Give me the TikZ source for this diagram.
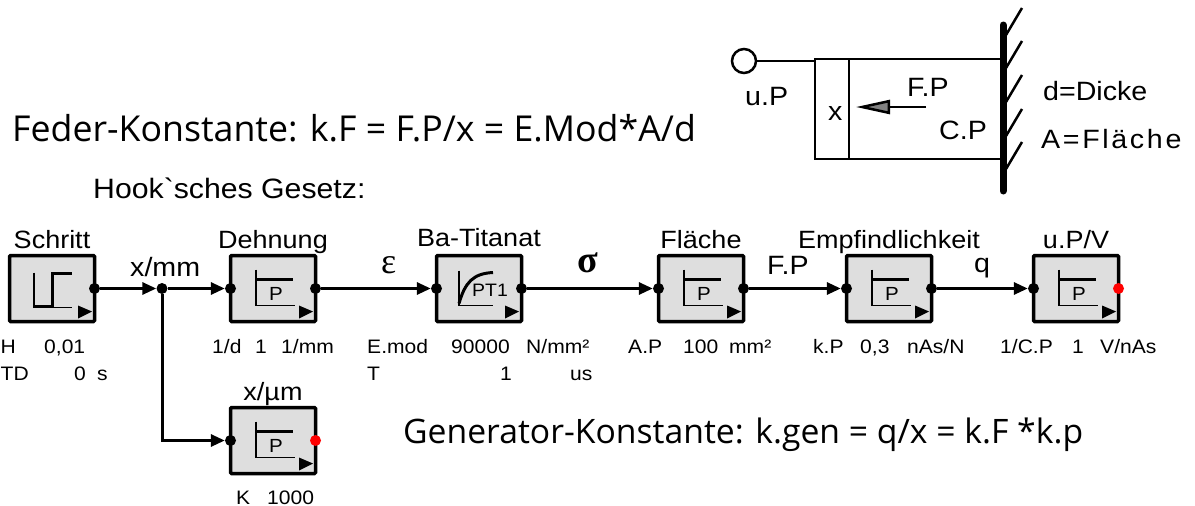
\documentclass[tikz,border=0pt]{standalone}
\usepackage{fontspec}
\setmainfont[FakeStretch=1.08]{Liberation Sans}
\newfontfamily\handfont{Open Sans}
\newfontfamily\plainfont[FakeStretch=1.08]{Liberation Sans}
\newfontfamily\spreadfont[FakeStretch=1.08,LetterSpace=10]{Liberation Sans}
\newfontfamily\greekfont{Liberation Serif}
\usetikzlibrary{positioning,arrows.meta}
\definecolor{blockgray}{HTML}{DEDEDE}
\tikzset{
    block/.style={rectangle,draw,fill=blockgray,line width=3.5pt,rounded corners=1pt,outer sep=0pt,minimum width=85pt,minimum height=66pt},
    port/.style={circle,fill=black,inner sep=0pt,minimum size=11pt},
    wire/.style={line width=3pt,-{Triangle[length=14pt,width=12pt]}},
    title/.style={inner sep=0pt,font=\fontsize{25}{25}\selectfont,text height=18pt,text depth=0pt},
    signal/.style={inner sep=0pt,anchor=base west,font=\fontsize{26.5}{27}\selectfont},
    param/.style={inner sep=0pt,anchor=base west,font=\fontsize{19.5}{20}\selectfont},
    hand/.style={inner sep=0pt,anchor=base west,font=\handfont\fontsize{#1}{#1}\selectfont},
    ptail/.pic={
        \fill (26,17) -- (40,23) -- (26,30) -- cycle;
    },
    psym/.pic={
        \draw[line width=1.5pt] (-17,-19) -- (-17,17) -- (22,17);
        \draw[line width=3pt] (-17,-9) -- (20,-9);
        \node[inner sep=0pt,font=\fontsize{19}{19}\selectfont] (p) at (3,5) {P};
    },
    stepsym/.pic={
        \draw[line width=1.5pt] (-18,-16) -- (-18,19) -- (20,19);
        \draw[line width=3pt] (-18,18) -- (0,18) -- (0,-15) -- (20,-15);
    },
    ptsym/.pic={
        \draw[line width=1.5pt] (-20,-18) -- (-20,17) -- (14,17);
        \draw[line width=3pt] (-20,15) .. controls (-14,-6) and (-6,-15) .. (14,-16);
        \node[inner sep=0pt,font=\fontsize{18}{18}\selectfont] (pt) at (11,2) {PT1};
    }
}

\begin{document}
\begin{tikzpicture}[x=1pt,y=-1pt]
    \useasboundingbox (0,0) rectangle (1195,506);

    % signal flow
    \node[block] (schritt) at (52,288.5) {};
    \node[block] (dehnung) [right=136pt of schritt] {};
    \node[block] (titanat) [right=121pt of dehnung] {};
    \node[block] (flaeche) [right=137pt of titanat] {};
    \node[block] (empf) [right=103pt of flaeche] {};
    \node[block] (upv) [right=102pt of empf] {};
    \node[block] (xum) [below=86pt of dehnung] {};

    \foreach \b in {dehnung,titanat,flaeche,empf,upv,xum}
        \node[port] (\b-in) at (\b.west) {};
    \foreach \b in {schritt,dehnung,titanat,flaeche,empf}
        \node[port] (\b-out) at (\b.east) {};
    \foreach \b in {upv,xum}
        \node[port,fill=red] (\b-out) at (\b.east) {};
    \node[port] (split) at (162,288.5) {};

    \foreach \b in {schritt,dehnung,titanat,flaeche,empf,upv,xum}
        \pic at (\b) {ptail};
    \foreach \b in {dehnung,flaeche,empf,upv,xum}
        \pic at (\b) {psym};
    \pic at (schritt) {stepsym};
    \pic at (titanat) {ptsym};

    \draw[wire] (schritt-out) -- (split);
    \draw[wire] (split) -- (dehnung-in);
    \draw[wire] (split) |- (xum-in);
    \draw[wire] (dehnung-out) -- (titanat-in);
    \draw[wire] (titanat-out) -- (flaeche-in);
    \draw[wire] (flaeche-out) -- (empf-in);
    \draw[wire] (empf-out) -- (upv-in);

    \node[title] (tschritt) [above=7pt of schritt] {Schritt};
    \node[title] (tdehnung) [above=7pt of dehnung] {Dehnung};
    \node[title] (ttitanat) [above=9pt of titanat] {Ba-Titanat};
    \node[title] (tflaeche) [above=7pt of flaeche] {Fläche};
    \node[title] (tempf) [above=7pt of empf] {Empfindlichkeit};
    \node[title] (tupv) [above=7pt of upv] {u.P/V};
    \node[title] (txum) [above=7pt of xum] {x/µm};

    \node[signal] (sx) at (130,276) {x/mm};
    \node[signal,font=\greekfont\fontsize{36}{36}\selectfont] (seps) at (381,273) {ε};
    \node[signal,font=\greekfont\bfseries\fontsize{38}{38}\selectfont] (ssig) at (577,272) {σ};
    \node[signal] (sfp) at (767,274) {F.P};
    \node[signal] (sq) at (974,272) {q};

    % parameters
    \node[param] (h1) at (0.5,353) {H};
    \node[param] (h2) at (44,353) {0,01};
    \node[param] (td1) at (0.5,380) {TD};
    \node[param] (td2) at (74,380) {0};
    \node[param] (td3) at (97,380) {s};
    \node[param] (d1) at (212,353) {1/d};
    \node[param] (d2) at (255,353) {1};
    \node[param] (d3) at (281,353) {1/mm};
    \node[param] (e1) at (367,353) {E.mod};
    \node[param] (e2) at (451,353) {90000};
    \node[param] (e3) at (526,353) {N/mm²};
    \node[param] (t1) at (367,380) {T};
    \node[param] (t2) at (500,380) {1};
    \node[param] (t3) at (570,380) {us};
    \node[param] (a1) at (628,353) {A.P};
    \node[param] (a2) at (683,353) {100};
    \node[param] (a3) at (729,353) {mm²};
    \node[param] (k1) at (813,353) {k.P};
    \node[param] (k2) at (860,353) {0,3};
    \node[param] (k3) at (907,353) {nAs/N};
    \node[param] (c1) at (1000,353) {1/C.P};
    \node[param] (c2) at (1072,353) {1};
    \node[param] (c3) at (1100,353) {V/nAs};
    \node[param] (g1) at (236,504) {K};
    \node[param] (g2) at (267,504) {1000};

    % formulas
    \node[hand=35.7] (feder) at (12,141) {Feder-Konstante: k.F = F.P/x = E.Mod*A/d};
    \node[signal,font=\plainfont\fontsize{28}{28}\selectfont] (hook) at (93,198) {Hook`sches Gesetz:};
    \node[hand=33.7] (gen) at (403,443) {Generator-Konstante: k.gen = q/x = k.F *k.p};

    % piezo sketch
    \node[circle,draw,line width=2.5pt,inner sep=0pt,minimum size=24pt] (clamp) at (744,61) {};
    \coordinate (ptl) at (815,61);
    \draw[line width=2.5pt] (clamp) -- (ptl);
    \draw[line width=2.5pt] (1003,59) -- (815,59) -- (815,159) -- (1003,159);
    \draw[line width=2.5pt] (849,59) -- (849,159);
    \draw[line width=7pt,line cap=round] (1003,25) -- (1003,191);
    \foreach \y in {35,68,102,136,169}
        \draw[line width=2.5pt] (1006,\y) -- (1022,\y-27);
    \coordinate (fstart) at (926,107);
    \coordinate (ftip) at (856,107);
    \draw[line width=2.5pt,-{Triangle[length=34pt,width=14pt,fill=gray]}] (fstart) -- (ftip);

    \node[signal] (lup) at (745,105) {u.P};
    \node[signal] (lx) at (828,120) {x};
    \node[signal] (lfp) at (907,96) {F.P};
    \node[signal] (lcp) at (939,139) {C.P};
    \node[signal] (ld) at (1043,100) {d=Dicke};
    \node[signal,font=\spreadfont\fontsize{26.5}{27}\selectfont] (la) at (1041,148) {A=Fläche};
\end{tikzpicture}
\end{document}
